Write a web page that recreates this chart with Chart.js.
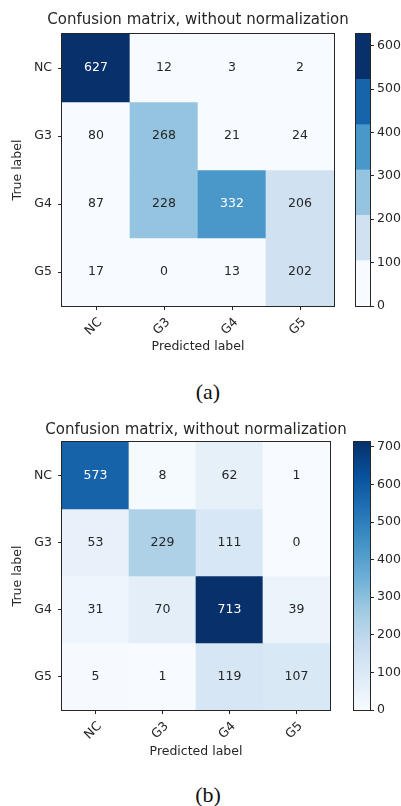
<!DOCTYPE html>
<html lang="en">
<head>
<meta charset="UTF-8">
<title>Confusion matrices</title>
<script src="https://cdn.jsdelivr.net/npm/chart.js"></script>
<style>
    body {
        margin: 0;
        background: #fff;
        width: 401px;
        height: 806px;
        position: relative;
        overflow: hidden;
    }
    canvas { position: absolute; }
    #matA { left: 0; top: 0; }
    #barA { left: 330px; top: 0; }
    #matB { left: 0; top: 410px; }
    #barB { left: 330px; top: 410px; }
    .caption {
        position: absolute;
        left: 0;
        width: 416px;
        text-align: center;
        font-family: "Liberation Serif", serif;
        font-size: 22px;
        line-height: 24px;
        color: #111;
    }
</style>
</head>
<body>
<canvas id="matA" width="401" height="360"></canvas>
<canvas id="barA" width="71" height="320"></canvas>
<div class="caption" style="top: 380px">(a)</div>
<canvas id="matB" width="401" height="355"></canvas>
<canvas id="barB" width="71" height="320"></canvas>
<div class="caption" style="top: 783px">(b)</div>

<script>
    const cols = ['NC', 'G3', 'G4', 'G5'];
    const rows = ['NC', 'G3', 'G4', 'G5'];
    const matrixA = [
        [627, 12, 3, 2],
        [80, 268, 21, 24],
        [87, 228, 332, 206],
        [17, 0, 13, 202]
    ];
    const matrixB = [
        [573, 8, 62, 1],
        [53, 229, 111, 0],
        [31, 70, 713, 39],
        [5, 1, 119, 107]
    ];
    const cbTicksA = [0, 100, 200, 300, 400, 500, 600];
    const cbTicksB = [0, 100, 200, 300, 400, 500, 600, 700];
    const levelsA = 6; // first matrix uses a 6-step Blues map
    const chartTitle = 'Confusion matrix, without normalization';

    // matplotlib "Blues"
    const blues = ['#f7fbff', '#deebf7', '#c6dbef', '#9ecae1', '#6baed6',
                   '#4292c6', '#2171b5', '#08519c', '#08306b'];
    const INK = '#262626';
    const FS = 12.5;

    Chart.defaults.font.family = '"DejaVu Sans"';
    Chart.defaults.color = INK;

    function hexRgb(h) {
        return [1, 3, 5].map(i => parseInt(h.substr(i, 2), 16));
    }

    function bluesAt(t) {
        t = Math.max(0, Math.min(1, t));
        const pos = t * (blues.length - 1);
        const i = Math.min(Math.floor(pos), blues.length - 2);
        const f = pos - i;
        const a = hexRgb(blues[i]), b = hexRgb(blues[i + 1]);
        const c = a.map((v, k) => Math.round(v + (b[k] - v) * f));
        return `rgb(${c[0]}, ${c[1]}, ${c[2]})`;
    }

    function binned(levels) {
        return t => bluesAt(Math.min(Math.floor(t * levels), levels - 1) / (levels - 1));
    }

    const frame = {
        id: 'frame',
        afterDraw(chart) {
            const a = chart.chartArea, ctx = chart.ctx;
            ctx.save();
            ctx.strokeStyle = INK;
            ctx.lineWidth = 1;
            ctx.strokeRect(a.left - 0.5, a.top - 0.5, a.right - a.left + 1, a.bottom - a.top + 1);
            ctx.restore();
        }
    };

    // title centred over the axes, like matplotlib (wider than the plot area)
    const axesTitle = {
        id: 'axesTitle',
        afterDraw(chart, args, opts) {
            const a = chart.chartArea, ctx = chart.ctx;
            ctx.save();
            ctx.font = opts.size + 'px "DejaVu Sans"';
            ctx.fillStyle = INK;
            ctx.textAlign = 'center';
            ctx.textBaseline = 'middle';
            ctx.fillText(opts.text, (a.left + a.right) / 2, opts.y);
            ctx.restore();
        }
    };

    function cellText(matrix, vmax) {
        return {
            id: 'cellText',
            afterDatasetsDraw(chart) {
                const ctx = chart.ctx;
                ctx.save();
                ctx.font = FS + 'px "DejaVu Sans"';
                ctx.textAlign = 'center';
                ctx.textBaseline = 'middle';
                matrix.forEach((row, i) => {
                    chart.getDatasetMeta(i).data.forEach((bar, j) => {
                        const v = row[j];
                        ctx.fillStyle = v > vmax / 2 ? '#fff' : INK;
                        ctx.fillText(String(v), bar.x, (bar.y + bar.base) / 2);
                    });
                });
                ctx.restore();
            }
        };
    }

    function matrixChart(id, matrix, colorFn, L) {
        const vmax = Math.max(...matrix.flat());
        new Chart(document.getElementById(id), {
            type: 'bar',
            data: {
                labels: cols,
                datasets: matrix.map((row, i) => ({
                    label: rows[i],
                    data: row.map(() => 1),
                    backgroundColor: row.map(v => colorFn(v / vmax)),
                    borderWidth: 0,
                    barPercentage: 1,
                    categoryPercentage: 1
                }))
            },
            options: {
                responsive: false,
                animation: false,
                layout: { padding: { left: 0, right: L.right, top: L.top, bottom: 0 } },
                plugins: {
                    legend: { display: false },
                    tooltip: { enabled: false },
                    axesTitle: { text: chartTitle, size: 15, y: 20 }
                },
                scales: {
                    x: {
                        stacked: true,
                        grid: { offset: false, drawOnChartArea: false, tickLength: 4, color: INK },
                        border: { display: false },
                        ticks: { minRotation: 45, maxRotation: 45, font: { size: FS }, padding: 5, labelOffset: 4 },
                        title: { display: true, text: 'Predicted label', font: { size: FS }, padding: { top: 0, bottom: 5.5 } },
                        afterFit: s => { s.height = L.xHeight; }
                    },
                    y: {
                        type: 'linear',
                        stacked: true,
                        min: 0,
                        max: rows.length,
                        reverse: true,
                        afterBuildTicks: s => { s.ticks = rows.map((r, i) => ({ value: i + 0.5 })); },
                        ticks: { callback: v => rows[Math.floor(v)], font: { size: FS }, padding: 6 },
                        grid: { drawOnChartArea: false, tickLength: 4, color: INK },
                        border: { display: false },
                        title: { display: true, text: 'True label', font: { size: FS }, padding: { top: 10, bottom: 0 } },
                        afterFit: s => { s.width = 62; }
                    }
                }
            },
            plugins: [frame, axesTitle, cellText(matrix, vmax)]
        });
    }

    function colorbarChart(id, vmax, tickVals, datasets, L) {
        new Chart(document.getElementById(id), {
            type: 'bar',
            data: { labels: [''], datasets },
            options: {
                responsive: false,
                animation: false,
                layout: { padding: { left: L.left, right: 0, top: L.top, bottom: L.bottom } },
                plugins: { legend: { display: false }, tooltip: { enabled: false } },
                scales: {
                    x: { display: false, stacked: true },
                    y: {
                        position: 'right',
                        stacked: true,
                        min: 0,
                        max: vmax,
                        afterBuildTicks: s => { s.ticks = tickVals.map(v => ({ value: v })); },
                        ticks: { font: { size: FS }, padding: 3 },
                        grid: { drawOnChartArea: false, tickLength: 4, color: INK },
                        border: { display: false },
                        afterFit: s => { s.width = 31; }
                    }
                }
            },
            plugins: [frame]
        });
    }

    // (a)
    const vmaxA = Math.max(...matrixA.flat());
    matrixChart('matA', matrixA, binned(levelsA), { right: 67, top: 34, xHeight: 54 });
    colorbarChart('barA', vmaxA, cbTicksA,
        Array.from({ length: levelsA }, (_, k) => ({
            data: [vmaxA / levelsA],
            backgroundColor: bluesAt(k / (levelsA - 1)),
            borderWidth: 0,
            barPercentage: 1,
            categoryPercentage: 1
        })),
        { left: 26, top: 34, bottom: 14 });

    // (b)
    const vmaxB = Math.max(...matrixB.flat());
    matrixChart('matB', matrixB, bluesAt, { right: 71, top: 32, xHeight: 55 });
    colorbarChart('barB', vmaxB, cbTicksB, [{
        data: [vmaxB],
        backgroundColor: c => {
            const { ctx, scales } = c.chart;
            const y = scales && scales.y;
            if (!y) return blues[0];
            const y0 = y.getPixelForValue(0), y1 = y.getPixelForValue(vmaxB);
            if (!isFinite(y0) || !isFinite(y1) || y0 === y1) return blues[0];
            const g = ctx.createLinearGradient(0, y0, 0, y1);
            blues.forEach((col, i) => g.addColorStop(i / (blues.length - 1), col));
            return g;
        },
        borderWidth: 0,
        barPercentage: 1,
        categoryPercentage: 1
    }], { left: 24, top: 32, bottom: 20 });
</script>
</body>
</html>
